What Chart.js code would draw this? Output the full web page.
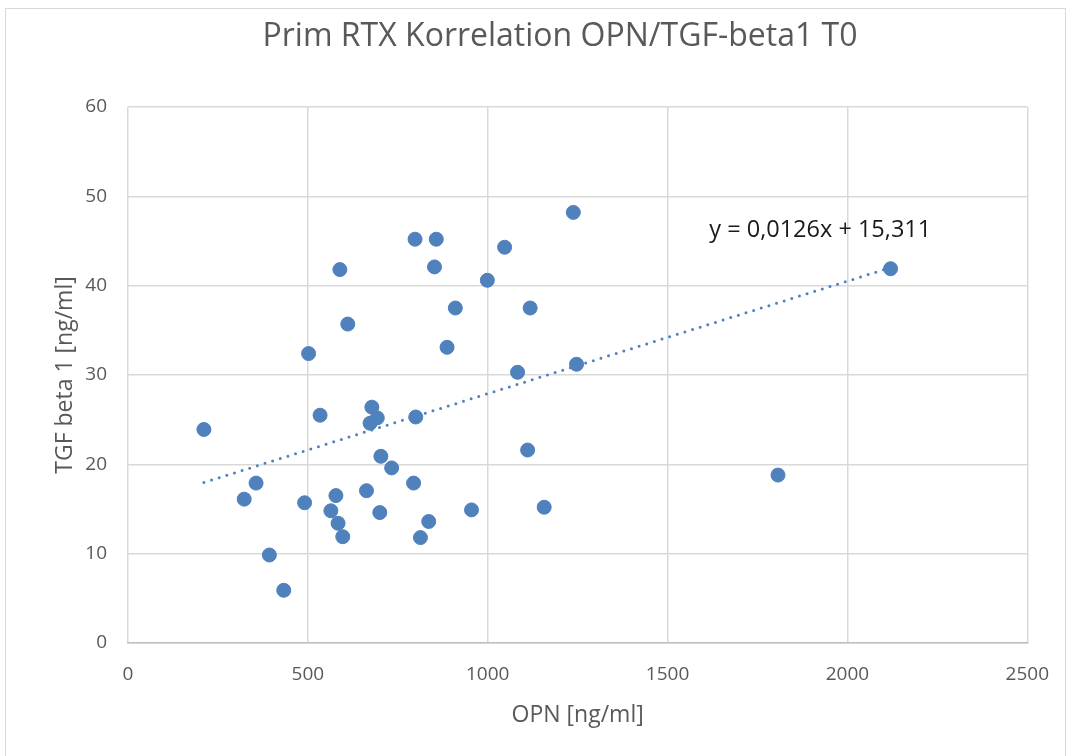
<!DOCTYPE html>
<html>
<head>
<meta charset="utf-8">
<script src="https://cdn.jsdelivr.net/npm/chart.js@4"></script>
<style>
  body { margin: 0; background: #fff; }
  .frame { position: absolute; left: 5px; top: 8px; width: 1061px; height: 760px; border: 1px solid #d9d9d9; box-sizing: border-box; }
  canvas { position: absolute; left: 0; top: 0; }
</style>
</head>
<body>
<div class="frame"></div>
<canvas id="myChart" width="1069" height="756"></canvas>
<script>
// OPN [ng/ml] vs TGF beta 1 [ng/ml]
const opn = [211, 323, 356, 393, 433, 491, 502, 534, 564, 578, 584, 589, 597, 611, 663, 678, 673, 693, 700, 703,
  733, 794, 798, 800, 813, 836, 852, 857, 887, 910, 955, 999, 1047, 1083, 1111, 1118, 1157, 1238, 1247, 1807, 2120];
const tgf = [23.9, 16.1, 17.9, 9.85, 5.9, 15.7, 32.4, 25.5, 14.8, 16.5, 13.4, 41.8, 11.9, 35.7, 17.05, 26.4, 24.6, 25.2, 14.6, 20.9,
  19.6, 17.9, 45.2, 25.3, 11.8, 13.6, 42.1, 45.2, 33.1, 37.5, 14.9, 40.6, 44.3, 30.3, 21.6, 37.5, 15.2, 48.2, 31.2, 18.8, 41.9];

// trendline from the equation shown on the chart
const slope = 0.0126;
const intercept = 15.311;
const equationText = "y = 0,0126x + 15,311";
const titulo = "Prim RTX Korrelation OPN/TGF-beta1 T0";

const xTicks = [0, 500, 1000, 1500, 2000, 2500];
const yTicks = [0, 10, 20, 30, 40, 50, 60];

const puntos = opn.map((x, i) => ({ x: x, y: tgf[i] }));
const xMin = Math.min(...opn);
const xMax = Math.max(...opn);
const tendencia = [
  { x: xMin, y: slope * xMin + intercept },
  { x: xMax, y: slope * xMax + intercept },
];

const colorAzul = "#4f81bd";
const colorTexto = "#595959";

// title and equation label, drawn by hand so they sit where Excel put them
const textosExtra = {
  id: "textosExtra",
  afterDatasetsDraw(chart) {
    const { ctx, scales } = chart;
    ctx.save();
    ctx.font = "32px 'Open Sans'";
    ctx.fillStyle = colorTexto;
    ctx.textAlign = "center";
    ctx.textBaseline = "middle";
    ctx.fillText(titulo, 560, 37);

    const px = scales.x.getPixelForValue(1616);
    const py = scales.y.getPixelForValue(46.25);
    ctx.font = "23.5px 'Open Sans'";
    ctx.fillStyle = "#1a1a1a";
    ctx.textAlign = "left";
    ctx.fillText(equationText, px, py);
    ctx.restore();
  },
};

const config = {
  type: "scatter",
  data: {
    datasets: [
      {
        label: "TGF beta 1",
        data: puntos,
        backgroundColor: colorAzul,
        borderColor: colorAzul,
        borderWidth: 1,
        pointRadius: 7,
        pointHoverRadius: 7,
        order: 1,
      },
      {
        type: "line",
        label: "Trend",
        data: tendencia,
        borderColor: colorAzul,
        borderWidth: 3,
        borderDash: [0, 8],
        borderCapStyle: "round",
        pointRadius: 0,
        fill: false,
        order: 2,
      },
    ],
  },
  options: {
    responsive: false,
    animation: false,
    devicePixelRatio: 1,
    layout: { padding: { left: 0, right: 39, top: 107, bottom: 27 } },
    plugins: {
      legend: { display: false },
      tooltip: { enabled: false },
      title: { display: false },
    },
    scales: {
      x: {
        type: "linear",
        min: 0,
        max: 2500,
        afterBuildTicks: (scale) => { scale.ticks = xTicks.map((v) => ({ value: v })); },
        afterFit: (scale) => { scale.height = 86; },
        ticks: {
          color: colorTexto,
          font: { family: "'Open Sans'", size: 19 },
          padding: 20,
          callback: (v) => String(v),
        },
        grid: { color: "#d9d9d9", lineWidth: 1.5, drawTicks: false },
        border: { color: "#bfbfbf", width: 1.5 },
        title: {
          display: true,
          text: "OPN [ng/ml]",
          color: colorTexto,
          font: { family: "'Open Sans'", size: 23 },
          padding: { top: 0, bottom: 0 },
        },
      },
      y: {
        type: "linear",
        min: 0,
        max: 60,
        afterBuildTicks: (scale) => { scale.ticks = yTicks.map((v) => ({ value: v })); },
        afterFit: (scale) => { scale.width = 128; },
        ticks: { color: colorTexto, font: { family: "'Open Sans'", size: 19 }, padding: 21 },
        grid: { color: "#d9d9d9", lineWidth: 1.5, drawTicks: false },
        border: { display: false },
        title: {
          display: true,
          text: "TGF beta 1 [ng/ml]",
          color: colorTexto,
          font: { family: "'Open Sans'", size: 23 },
          padding: { top: 52, bottom: 52 },
        },
      },
    },
  },
  plugins: [textosExtra],
};

new Chart(document.getElementById("myChart"), config);
</script>
</body>
</html>
